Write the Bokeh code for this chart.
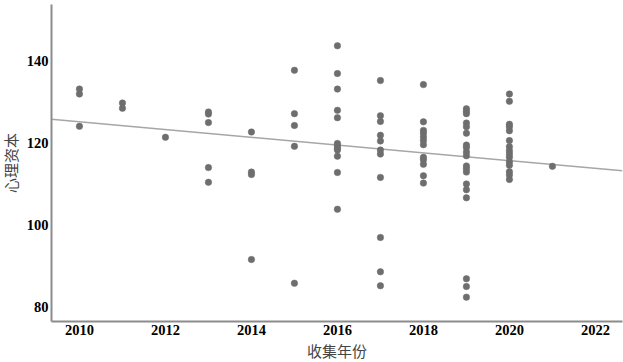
from bokeh.plotting import figure
from bokeh.models import ColumnDataSource, Range1d, FixedTicker
from bokeh.embed import file_html
from bokeh.resources import INLINE

# ---- data ----
years = [2010, 2011, 2012, 2013, 2014, 2015, 2016, 2017, 2018, 2019, 2020, 2021]
v2010 = [133.2, 132.0, 124.1]
v2011 = [129.8, 128.5]
v2012 = [121.4]
v2013 = [127.6, 127.1, 125.0, 114.0, 110.4]
v2014 = [122.7, 112.9, 112.3, 91.5]
v2015 = [137.8, 127.2, 124.3, 119.2, 85.7]
v2016 = [143.8, 137.0, 133.2, 128.0, 126.2, 119.9, 119.3, 118.7, 118.3, 116.8, 112.8, 103.8]
v2017 = [135.3, 126.7, 125.3, 121.9, 120.5, 118.3, 117.3, 111.6, 96.9, 88.5, 85.1]
v2018 = [134.3, 125.2, 123.1, 122.4, 121.5, 120.6, 119.6, 116.5, 115.9, 114.8, 112.0, 110.2]
v2019 = [128.4, 127.8, 127.2, 124.9, 124.0, 122.4, 119.5, 118.9, 117.8, 116.9,
         114.4, 113.7, 112.9, 110.0, 108.6, 106.6, 86.8, 84.9, 82.3]
v2020 = [132.0, 130.2, 124.6, 124.0, 123.0, 120.6, 119.1, 118.1, 117.3, 116.5,
         115.4, 114.6, 113.0, 112.2, 111.1]
v2021 = [114.3]
groups = [v2010, v2011, v2012, v2013, v2014, v2015, v2016, v2017, v2018, v2019, v2020, v2021]

# linear trend line
trend_at_2010 = 125.2
trend_slope = -0.95

x_ticks = [2010, 2012, 2014, 2016, 2018, 2020, 2022]
y_ticks = [80, 100, 120, 140]
x_label = "收集年份"
y_label = "心理资本"

xs = []
ys = []
for yr, vals in zip(years, groups):
    xs += [yr] * len(vals)
    ys += vals

x0, x1 = 2009.35, 2022.63
fit_x = [x0, x1]
fit_y = [trend_at_2010 + trend_slope * (x - 2010) for x in fit_x]

p = figure(width=623, height=362, output_backend="svg", toolbar_location=None,
           x_range=Range1d(x0, x1), y_range=Range1d(76.34, 153.9),
           min_border_left=51, min_border_right=1, min_border_top=4, min_border_bottom=40)
p.outline_line_color = None
p.xgrid.visible = False
p.ygrid.visible = False

p.line(fit_x, fit_y, line_color="#a6a6a6", line_width=1.5)
p.scatter(x="x", y="y", source=ColumnDataSource(dict(x=xs, y=ys)),
          size=6.5, fill_color="#6e6e6e", line_color="#6e6e6e", line_width=0.5)

for ax, ticks in ((p.xaxis[0], x_ticks), (p.yaxis[0], y_ticks)):
    ax.ticker = FixedTicker(ticks=ticks)
    ax.axis_line_color = "#8c8c8c"
    ax.axis_line_width = 2
    ax.major_tick_line_color = None
    ax.minor_tick_line_color = None
    ax.major_tick_out = 0
    ax.major_tick_in = 0
    ax.minor_tick_out = 0
    ax.minor_tick_in = 0
    ax.major_label_text_font = "Liberation Serif"
    ax.major_label_text_font_style = "bold"
    ax.major_label_text_font_size = "14.5px"
    ax.major_label_text_color = "#000000"
    ax.major_label_standoff = 3
    ax.axis_label_text_font = "Liberation Serif, Noto Sans CJK SC"
    ax.axis_label_text_font_style = "normal"
    ax.axis_label_text_font_size = "15px"
    ax.axis_label_text_color = "#444444"

p.xaxis.axis_label_standoff = 6
p.yaxis.axis_label_standoff = 4
p.xaxis.axis_label = x_label
p.yaxis.axis_label = y_label

open("out.html", "w").write(file_html(p, INLINE))
